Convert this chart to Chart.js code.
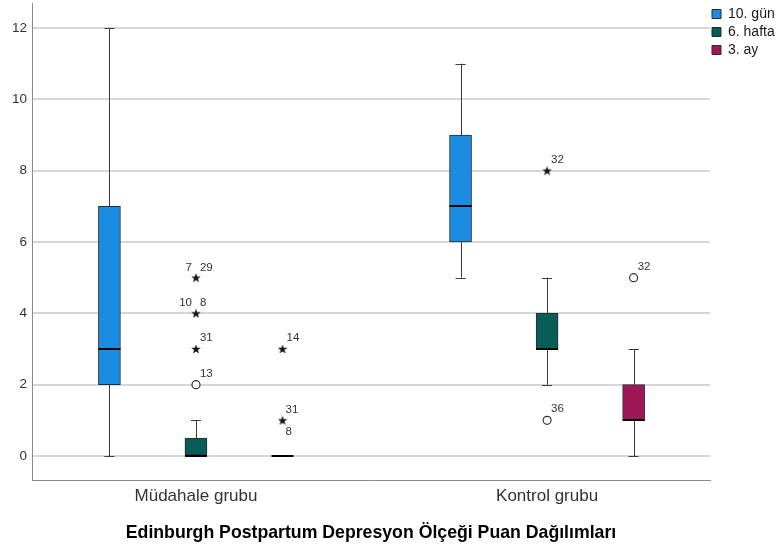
<!DOCTYPE html>
<html>
<head>
<meta charset="utf-8">
<script src="https://cdn.jsdelivr.net/npm/chart.js@4.4.0/dist/chart.umd.min.js"></script>
<style>
  html, body { margin: 0; padding: 0; background: #ffffff; }
  #c { display: block; }
</style>
</head>
<body>
<canvas id="c" width="778" height="550"></canvas>
<script>
// ---------------- DATA ----------------
const categories = ['Müdahale grubu', 'Kontrol grubu'];
const seriesNames = ['10. gün', '6. hafta', '3. ay'];
const yTicks = [0, 2, 4, 6, 8, 10, 12];
const xTickValues = [0, 1];
// box-plot statistics per series, values for [Müdahale, Kontrol]
const whiskerLow  = [[0, 5], [0, 2],   [0, 0]];
const quartile1   = [[2, 6], [0, 3],   [0, 1]];
const medians     = [[3, 7], [0, 3],   [0, 1]];
const quartile3   = [[7, 9], [0.5, 4], [0, 2]];
const whiskerHigh = [[12, 11], [1, 5], [0, 3]];
// outliers (o = circle, * = extreme)
const outGroup  = [0, 0, 0, 0, 0, 0, 1, 1, 1];
const outSeries = [1, 1, 1, 1, 2, 2, 1, 1, 2];
const outValue  = [2, 3, 4, 5, 3, 1, 8, 1, 5];
const outKind   = ['o', '*', '*', '*', '*', '*', '*', 'o', 'o'];
const outLabels = [['13'], ['31'], ['10', '8'], ['7', '29'], ['14'], ['31', '8'], ['32'], ['36'], ['32']];

// ---------------- STYLE ----------------
const seriesColors = ['#1a8de3', '#075e59', '#9e1857'];
const seriesOffset = [-0.2465, 0, 0.2465];
const labelLayout = ['single', 'single', 'split', 'split', 'single', 'stack', 'single', 'single', 'single'];
const FONT = "'Liberation Sans', Arial, Helvetica, sans-serif";

function makeStar(size, color) {
  const c = document.createElement('canvas');
  c.width = size; c.height = size;
  const g = c.getContext('2d');
  g.fillStyle = color;
  g.beginPath();
  const R = size / 2, r = R * 0.42, cx = size / 2, cy = size / 2 + 0.4;
  for (let i = 0; i < 10; i++) {
    const a = -Math.PI / 2 + i * Math.PI / 5;
    const rad = i % 2 ? r : R;
    g.lineTo(cx + rad * Math.cos(a), cy + rad * Math.sin(a));
  }
  g.closePath();
  g.fill();
  return c;
}
const starImg = makeStar(10, '#1a1a1a');

// ---------------- DATASETS ----------------
const barDatasets = seriesNames.map((name, s) => ({
  type: 'bar',
  label: name,
  data: categories.map((c, g) => ({ x: g + seriesOffset[s], y: [quartile1[s][g], quartile3[s][g]] })),
  backgroundColor: seriesColors[s],
  borderColor: '#2a2a2a',
  borderWidth: 1,
  borderSkipped: false,
  barThickness: 22,
  grouped: false,
  order: 2
}));

function outlierPoints(kind) {
  const pts = [];
  outValue.forEach((v, i) => {
    if (outKind[i] === kind) pts.push({ x: outGroup[i] + seriesOffset[outSeries[i]], y: v });
  });
  return pts;
}

const circleDataset = {
  type: 'scatter',
  label: 'circles',
  data: outlierPoints('o'),
  pointStyle: 'circle',
  pointRadius: 4,
  pointBorderWidth: 1.2,
  pointBorderColor: '#333333',
  pointBackgroundColor: '#ffffff',
  order: 1
};
const starDataset = {
  type: 'scatter',
  label: 'stars',
  data: outlierPoints('*'),
  pointStyle: starImg,
  pointRadius: 5,
  order: 1
};

// ---------------- PLUGINS ----------------
const boxParts = {
  id: 'boxParts',
  afterDatasetsDraw(chart) {
    const { ctx } = chart;
    const xs = chart.scales.x, ys = chart.scales.y;
    ctx.save();
    seriesNames.forEach((name, s) => {
      categories.forEach((cat, g) => {
        const cx = xs.getPixelForValue(g + seriesOffset[s]);
        const lx = Math.round(cx) + 0.5;
        const pLow = ys.getPixelForValue(whiskerLow[s][g]);
        const pQ1 = ys.getPixelForValue(quartile1[s][g]);
        const pQ3 = ys.getPixelForValue(quartile3[s][g]);
        const pHigh = ys.getPixelForValue(whiskerHigh[s][g]);
        const pMed = ys.getPixelForValue(medians[s][g]);
        ctx.strokeStyle = '#3a3a3a';
        ctx.lineWidth = 1;
        const cap = 5;
        if (whiskerLow[s][g] < quartile1[s][g]) {
          ctx.beginPath(); ctx.moveTo(lx, pQ1); ctx.lineTo(lx, pLow); ctx.stroke();
          ctx.beginPath(); ctx.moveTo(cx - cap, Math.round(pLow) + 0.5); ctx.lineTo(cx + cap, Math.round(pLow) + 0.5); ctx.stroke();
        }
        if (whiskerHigh[s][g] > quartile3[s][g]) {
          ctx.beginPath(); ctx.moveTo(lx, pQ3); ctx.lineTo(lx, pHigh); ctx.stroke();
          ctx.beginPath(); ctx.moveTo(cx - cap, Math.round(pHigh) + 0.5); ctx.lineTo(cx + cap, Math.round(pHigh) + 0.5); ctx.stroke();
        }
        // median
        ctx.strokeStyle = '#000000';
        ctx.lineWidth = 2;
        const half = 11;
        ctx.beginPath(); ctx.moveTo(cx - half, Math.round(pMed)); ctx.lineTo(cx + half, Math.round(pMed)); ctx.stroke();
      });
    });
    // outlier labels
    ctx.fillStyle = '#333333';
    ctx.font = '11.5px ' + FONT;
    ctx.textBaseline = 'middle';
    outValue.forEach((v, i) => {
      const px = xs.getPixelForValue(outGroup[i] + seriesOffset[outSeries[i]]);
      const py = ys.getPixelForValue(v);
      const labs = outLabels[i];
      const mode = labelLayout[i];
      if (mode === 'split') {
        ctx.textAlign = 'right'; ctx.fillText(labs[0], px - 4, py - 10);
        ctx.textAlign = 'left'; ctx.fillText(labs[1], px + 4, py - 10);
      } else if (mode === 'stack') {
        ctx.textAlign = 'left';
        ctx.fillText(labs[0], px + 3, py - 10);
        ctx.fillText(labs[1], px + 3, py + 12);
      } else {
        ctx.textAlign = 'left';
        ctx.fillText(labs[0], px + 4, py - 11);
      }
    });
    ctx.restore();
  }
};

const legendShift = {
  id: 'legendShift',
  afterLayout(chart) {
    if (chart.legend) { chart.legend.left -= 2; }
  }
};

// ---------------- CHART ----------------
new Chart(document.getElementById('c'), {
  type: 'bar',
  data: { datasets: [...barDatasets, circleDataset, starDataset] },
  options: {
    responsive: false,
    animation: false,
    devicePixelRatio: 1,
    layout: { autoPadding: false, padding: { top: 3, right: 0, bottom: 0, left: 0 } },
    plugins: {
      tooltip: { enabled: false },
      legend: {
        position: 'right',
        align: 'start',
        maxWidth: 68,
        labels: {
          boxWidth: 9,
          boxHeight: 9,
          padding: 4,
          color: '#1a1a1a',
          font: { family: FONT, size: 14 },
          filter: item => item.datasetIndex < seriesNames.length
        }
      }
    },
    scales: {
      x: {
        type: 'linear',
        min: -0.467,
        max: 1.464,
        offset: false,
        afterBuildTicks: scale => { scale.ticks = xTickValues.map(v => ({ value: v })); },
        afterFit: scale => { scale.height = 70; scale.paddingLeft = 0; scale.paddingRight = 0; },
        grid: { display: false, drawTicks: false, offset: false },
        border: { display: true, color: '#8c8c8c', width: 1 },
        ticks: {
          padding: 6,
          color: '#333333',
          font: { family: FONT, size: 17 },
          maxRotation: 0,
          autoSkip: false,
          callback: (value) => categories[Math.round(value)]
        },
        title: {
          display: true,
          text: 'Edinburgh Postpartum Depresyon Ölçeği Puan Dağılımları',
          color: '#000000',
          font: { family: FONT, size: 17.7, weight: 'bold' },
          padding: { top: 2, bottom: 6 }
        }
      },
      y: {
        type: 'linear',
        min: -0.673,
        max: 12.70,
        afterBuildTicks: scale => { scale.ticks = yTicks.map(v => ({ value: v })); },
        afterFit: scale => { scale.width = 32; scale.paddingTop = 0; scale.paddingBottom = 0; },
        grid: { color: '#d6d6d6', lineWidth: 2, drawTicks: false },
        border: { display: true, color: '#8c8c8c', width: 1 },
        ticks: {
          padding: 5,
          color: '#333333',
          font: { family: FONT, size: 13.5 }
        }
      }
    }
  },
  plugins: [boxParts, legendShift]
});
</script>
</body>
</html>
